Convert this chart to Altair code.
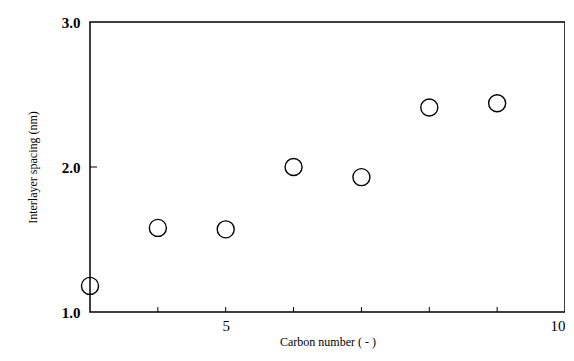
import altair as alt
import pandas as pd

carbon = [3, 4, 5, 6, 7, 8, 9]
spacing = [1.18, 1.58, 1.57, 2.00, 1.93, 2.41, 2.44]
x_minor = [4, 5, 6, 7, 8, 9]
y_minor = [2.0]
x_labels = [5, 10]
y_labels = [1.0, 2.0, 3.0]

df = pd.DataFrame({"c": carbon, "s": spacing})
xt = pd.DataFrame({"t": x_minor})
yt = pd.DataFrame({"t": y_minor})

FONT = "Liberation Serif"
W, H = 475, 290

xscale = alt.Scale(domain=[3, 10], nice=False, zero=False)
yscale = alt.Scale(domain=[1.0, 3.0], nice=False, zero=False)

points = alt.Chart(df).mark_point(
    shape="circle", filled=False, size=290, stroke="black", strokeWidth=1.4, opacity=1
).encode(
    x=alt.X("c:Q", scale=xscale, title="Carbon number ( - )",
            axis=alt.Axis(values=x_labels, format="d", ticks=False, domain=False, grid=False,
                          labelFont=FONT, labelFontSize=15, labelColor="black", labelPadding=6,
                          titleFont=FONT, titleFontSize=12, titleFontWeight="normal",
                          titleColor="black", titlePadding=3)),
    y=alt.Y("s:Q", scale=yscale, title="Interlayer spacing (nm)",
            axis=alt.Axis(values=y_labels, format=".1f", ticks=False, domain=False, grid=False,
                          labelFont=FONT, labelFontSize=15, labelFontWeight="bold",
                          labelColor="black", labelPadding=10,
                          titleFont=FONT, titleFontSize=12, titleFontWeight="normal",
                          titleColor="black", titlePadding=22)),
)

xticks = alt.Chart(xt).mark_rule(color="black", strokeWidth=1).encode(
    x=alt.X("t:Q", scale=xscale), y=alt.value(H), y2=alt.value(H - 5)
)
yticks = alt.Chart(yt).mark_rule(color="black", strokeWidth=1).encode(
    y=alt.Y("t:Q", scale=yscale), x=alt.value(0), x2=alt.value(7)
)

chart = alt.layer(points, xticks, yticks).properties(
    width=W, height=H,
    background="white",
    autosize=alt.AutoSizeParams(type="none"),
    padding={"left": 82, "top": 14, "right": 0, "bottom": 40},
).configure_view(stroke="black", strokeWidth=1.5)

chart.save("out.html", embed_options={"renderer": "svg", "actions": False})
